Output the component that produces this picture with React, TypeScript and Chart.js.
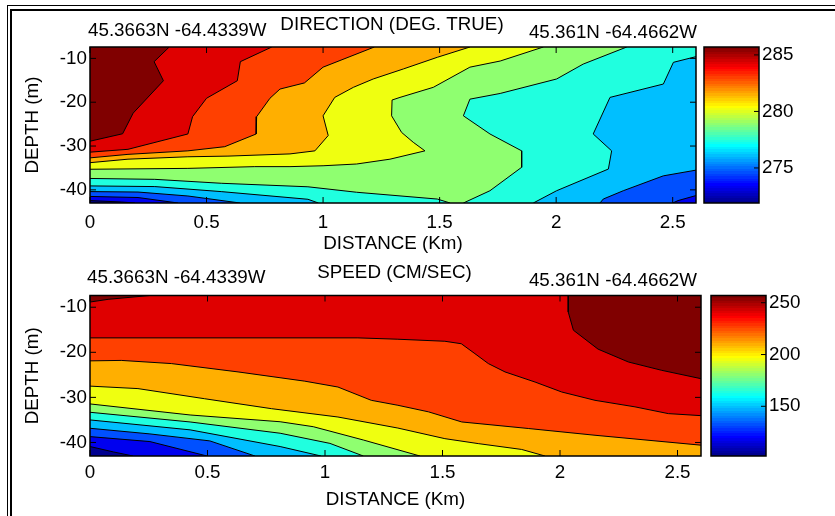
import React, { useEffect, useRef } from "react";
import { Chart, registerables } from "chart.js";

Chart.register(...registerables);

type Pt = [number, number];

const FONT = "'Liberation Sans', Arial, Helvetica, sans-serif";
const FS = 18.8;
Chart.defaults.font.family = FONT;

// ---------- axes ----------
const X_MIN = 0;
const X_MAX = 2.6;
const Y_MIN = -43;
const Y_MAX = -7.4;
const distanceTicks = [0, 0.5, 1, 1.5, 2, 2.5];
const depthTicks = [-40, -30, -20, -10];

// ---------- colour bars ----------
const dirColorRange: [number, number] = [271.9, 285.7];
const dirColorTicks = [275, 280, 285];
const spdColorRange: [number, number] = [102, 257];
const spdColorTicks = [150, 200, 250];
// jet(64) entry used for each filled contour band (lowest -> highest)
const levelJetIndex = [1, 7, 13, 20, 26, 33, 39, 45, 52, 58, 64];

// ---------- texts ----------
const stationWest = "45.3663N -64.4339W";
const stationEast = "45.361N -64.4662W";
const dirTitle = "DIRECTION (DEG. TRUE)";
const spdTitle = "SPEED (CM/SEC)";
const xTitle = "DISTANCE (Km)";
const yTitle = "DEPTH (m)";

// ---------- DIRECTION contour lines: [distance km, depth m] ----------
// isoK = lower boundary of band K (band index as in levelJetIndex)
const dirIso1: Pt[] = [[0, -42.45], [0.134, -42.77], [0.193, -43]];
const dirIso2L: Pt[] = [[0, -41.5], [0.206, -41.75], [0.378, -43]];
const dirIso2R: Pt[] = [[2.6, -41.3], [2.523, -42.45], [2.5, -43]];
const dirIso3L: Pt[] = [[0, -40.4], [0.206, -40.5], [0.42, -41.4], [0.644, -43]];
const dirIso3R: Pt[] = [[2.6, -35.5], [2.46, -36.8], [2.288, -40.2], [2.202, -42.1], [2.188, -43]];
const dirIso4L: Pt[] = [[0, -39.1], [0.278, -39.25], [0.563, -40.4], [0.935, -42.15], [0.98, -43]];
const dirIso4R: Pt[] = [[2.6, -9.6], [2.503, -10.9], [2.46, -15.85], [2.231, -18.9], [2.159, -27.25], [2.238, -31.1], [2.224, -35.25], [2.002, -40.2], [1.902, -43]];
const dirIso5L: Pt[] = [[0, -37.4], [0.278, -37.6], [0.563, -38.5], [0.935, -39.3], [1.144, -40.55], [1.49, -42.1], [1.545, -43]];
const dirIso5R: Pt[] = [[2.303, -7.4], [2.116, -11.3], [2.002, -14.7], [1.76, -18.0], [1.63, -19.3], [1.602, -23.1], [1.716, -27.25], [1.852, -31.1], [1.852, -34.85], [1.716, -40.2], [1.602, -43]];
const dirIso6: Pt[] = [[1.945, -7.4], [1.76, -10.6], [1.63, -12.0], [1.473, -16.6], [1.33, -18.9], [1.296, -19.5], [1.294, -23.1], [1.337, -26.9], [1.387, -29.15], [1.437, -31.1], [1.287, -33.0], [1.144, -34.1], [1.0, -34.5], [0.858, -34.7], [0.707, -34.7], [0.42, -35.1], [0, -35.3]];
const dirIso7: Pt[] = [[1.63, -7.4], [1.49, -9.75], [1.345, -12.4], [1.215, -14.7], [1.13, -16.6], [1.05, -18.9], [1.0, -23.1], [1.022, -27.6], [0.965, -31.1], [0.858, -31.8], [0.592, -32.3], [0.42, -32.45], [0.163, -33.0], [0, -33.8]];
const dirIso8: Pt[] = [[1.22, -7.4], [1.0, -12.0], [0.92, -15.6], [0.815, -17.0], [0.772, -19.1], [0.715, -23.3], [0.713, -27.25], [0.578, -30.15], [0.42, -31.1], [0.163, -31.9], [0, -32.7]];
const dirIso9: Pt[] = [[0.78, -7.4], [0.645, -10.75], [0.632, -15.1], [0.5, -19.1], [0.44, -23.3], [0.42, -27.25], [0.163, -30.75], [0, -31.4]];
const dirIso10: Pt[] = [[0.34, -7.4], [0.275, -10.75], [0.315, -15.1], [0.185, -22.5], [0.14, -27.2], [0, -28.9]];

// ---------- SPEED contour lines ----------
const spdIso1: Pt[] = [[0, -40.9], [0.1, -42.1], [0.183, -43]];
const spdIso2: Pt[] = [[0, -38.7], [0.255, -39.8], [0.498, -43]];
const spdIso3: Pt[] = [[0, -36.85], [0.255, -38.1], [0.51, -39.65], [0.702, -43]];
const spdIso4: Pt[] = [[0, -35.0], [0.426, -37.2], [0.809, -40.9], [0.983, -43]];
const spdIso5: Pt[] = [[0, -33.3], [0.426, -35.45], [0.809, -37.95], [1.021, -40.2], [1.163, -43]];
const spdIso6: Pt[] = [[0, -31.45], [0.426, -33.9], [0.809, -35.4], [0.95, -36.5], [1.163, -39.45], [1.404, -43]];
const spdIso7: Pt[] = [[0, -27.5], [0.204, -28.05], [0.488, -30.3], [0.772, -32.5], [1.055, -34.35], [1.31, -36.8], [1.51, -39.15], [1.652, -40.25], [1.837, -41.55], [1.936, -43]];
const spdIso8: Pt[] = [[0, -21.9], [0.133, -21.8], [0.346, -22.5], [0.63, -24.35], [0.914, -26.4], [1.055, -27.7], [1.197, -30.65], [1.31, -31.75], [1.44, -33.2], [1.582, -35.45], [1.865, -36.9], [2.149, -38.4], [2.6, -40.6]];
const spdIso9: Pt[] = [[0, -16.8], [1.14, -16.8], [1.31, -17.1], [1.51, -17.55], [1.58, -18.1], [1.638, -20.3], [1.695, -22.5], [1.766, -24.35], [1.894, -26.6], [2.007, -28.8], [2.149, -30.65], [2.319, -32.1], [2.461, -33.6], [2.6, -34.05]];
const spdIso10L: Pt[] = [[0, -8.85], [0.077, -8.25], [0.254, -7.4]];
const spdIso10R: Pt[] = [[2.035, -7.4], [2.035, -11.05], [2.057, -15.1], [2.162, -19.3], [2.291, -22.15], [2.433, -24.0], [2.6, -25.85]];

// plot-bound corners
const TL: Pt = [X_MIN, Y_MAX];
const TR: Pt = [X_MAX, Y_MAX];
const BR: Pt = [X_MAX, Y_MIN];
const BL: Pt = [X_MIN, Y_MIN];
const rev = (a: Pt[]) => [...a].reverse();

function jetColor(j: number): string {
  const u = (k: number) => (k < 1 || k > 47 ? 0 : k <= 16 ? k / 16 : k <= 31 ? 1 : (48 - k) / 16);
  const c = (v: number) => Math.round(v * 255);
  return `rgb(${c(u(j - 24))},${c(u(j - 8))},${c(u(j + 8))})`;
}
const levelColors = levelJetIndex.map(jetColor);

type Region = { level: number; pts: Pt[] };

const dirRegions: Region[] = [
  { level: 0, pts: [BL, BR, TR, TL] },
  { level: 1, pts: [...dirIso1, BR, TR, TL] },
  { level: 2, pts: [...dirIso2L, ...rev(dirIso2R), TR, TL] },
  { level: 3, pts: [...dirIso3L, ...rev(dirIso3R), TR, TL] },
  { level: 4, pts: [...dirIso4L, ...rev(dirIso4R), TR, TL] },
  { level: 5, pts: [...dirIso5L, ...rev(dirIso5R), TL] },
  { level: 6, pts: [...dirIso6, TL] },
  { level: 7, pts: [...dirIso7, TL] },
  { level: 8, pts: [...dirIso8, TL] },
  { level: 9, pts: [...dirIso9, TL] },
  { level: 10, pts: [...dirIso10, TL] },
];
const dirLines: Pt[][] = [dirIso1, dirIso2L, dirIso2R, dirIso3L, dirIso3R, dirIso4L, dirIso4R, dirIso5L, dirIso5R, dirIso6, dirIso7, dirIso8, dirIso9, dirIso10];

const spdRegions: Region[] = [
  { level: 0, pts: [BL, BR, TR, TL] },
  { level: 1, pts: [...spdIso1, BR, TR, TL] },
  { level: 2, pts: [...spdIso2, BR, TR, TL] },
  { level: 3, pts: [...spdIso3, BR, TR, TL] },
  { level: 4, pts: [...spdIso4, BR, TR, TL] },
  { level: 5, pts: [...spdIso5, BR, TR, TL] },
  { level: 6, pts: [...spdIso6, BR, TR, TL] },
  { level: 7, pts: [...spdIso7, BR, TR, TL] },
  { level: 8, pts: [...spdIso8, TR, TL] },
  { level: 9, pts: [...spdIso9, TR, TL] },
  { level: 10, pts: [...spdIso10L, TL] },
  { level: 10, pts: [...spdIso10R, TR] },
];
const spdLines: Pt[][] = [spdIso1, spdIso2, spdIso3, spdIso4, spdIso5, spdIso6, spdIso7, spdIso8, spdIso9, spdIso10L, spdIso10R];

type Panel = {
  regions: Region[];
  lines: Pt[][];
  title: string;
  pad: { left: number; top: number; right: number; bottom: number };
  yAxisWidth: number;
  xAxisHeight: number;
  xTickPad: number;
  xTitlePad: number;
  yTitlePad: number;
  titleX: number;
  titleBase: number;
  westX: number;
  westBase: number;
  eastX: number;
  eastBase: number;
};

const TICK = 6;

function contourConfig(p: Panel): any {
  const datasets: any[] = [];
  p.regions.forEach((r, i) => {
    datasets.push({
      data: r.pts.map(([x, y]) => ({ x, y })),
      showLine: true,
      fill: "shape",
      backgroundColor: levelColors[r.level],
      borderColor: "rgba(0,0,0,0)",
      borderWidth: 0,
      pointRadius: 0,
      tension: 0,
      order: 1000 - i,
    });
  });
  p.lines.forEach((l) => {
    datasets.push({
      data: l.map(([x, y]) => ({ x, y })),
      showLine: true,
      fill: false,
      borderColor: "#000",
      borderWidth: 1,
      pointRadius: 0,
      tension: 0,
      order: 0,
    });
  });
  const font = { family: FONT, size: FS };
  const framePlugin = {
    id: "frame",
    afterDatasetsDraw(chart: any) {
      const { ctx } = chart;
      const { left, right, top, bottom } = chart.chartArea;
      const xs = chart.scales.x;
      const ys = chart.scales.y;
      ctx.save();
      ctx.strokeStyle = "#000";
      ctx.lineWidth = 1;
      ctx.beginPath();
      distanceTicks.forEach((v) => {
        const px = xs.getPixelForValue(v);
        ctx.moveTo(px, bottom);
        ctx.lineTo(px, bottom - TICK);
        ctx.moveTo(px, top);
        ctx.lineTo(px, top + TICK);
      });
      depthTicks.forEach((v) => {
        const py = ys.getPixelForValue(v);
        ctx.moveTo(left, py);
        ctx.lineTo(left + TICK, py);
        ctx.moveTo(right, py);
        ctx.lineTo(right - TICK, py);
      });
      ctx.stroke();
      ctx.lineWidth = 1.5;
      ctx.strokeRect(left, top, right - left, bottom - top);
      ctx.restore();
    },
    afterDraw(chart: any) {
      const { ctx } = chart;
      ctx.save();
      ctx.fillStyle = "#000";
      ctx.font = `${FS}px ${FONT}`;
      ctx.textBaseline = "alphabetic";
      ctx.textAlign = "center";
      ctx.fillText(p.title, p.titleX, p.titleBase);
      ctx.textAlign = "left";
      ctx.fillText(stationWest, p.westX, p.westBase);
      ctx.textAlign = "right";
      ctx.fillText(stationEast, p.eastX, p.eastBase);
      ctx.restore();
    },
  };
  return {
    type: "scatter",
    data: { datasets },
    options: {
      animation: false,
      responsive: false,
      devicePixelRatio: 1,
      events: [],
      layout: { padding: p.pad },
      plugins: { legend: { display: false }, tooltip: { enabled: false } },
      scales: {
        x: {
          type: "linear",
          min: X_MIN,
          max: X_MAX,
          grid: { display: false, drawTicks: false },
          border: { display: false },
          afterBuildTicks: (s: any) => {
            s.ticks = distanceTicks.map((v) => ({ value: v }));
          },
          afterFit: (s: any) => {
            s.height = p.xAxisHeight;
          },
          ticks: { font, color: "#000", padding: p.xTickPad, maxRotation: 0, autoSkip: false, callback: (v: any) => String(v) },
          title: { display: true, text: xTitle, font, color: "#000", padding: { top: 0, bottom: p.xTitlePad } },
        },
        y: {
          type: "linear",
          min: Y_MIN,
          max: Y_MAX,
          grid: { display: false, drawTicks: false },
          border: { display: false },
          afterBuildTicks: (s: any) => {
            s.ticks = depthTicks.map((v) => ({ value: v }));
          },
          afterFit: (s: any) => {
            s.width = p.yAxisWidth;
          },
          ticks: { font, color: "#000", padding: 3, autoSkip: false, callback: (v: any) => String(v) },
          title: { display: true, text: yTitle, font, color: "#000", padding: { top: p.yTitlePad, bottom: 0 } },
        },
      },
    },
    plugins: [framePlugin],
  };
}

type Bar = {
  range: [number, number];
  ticks: number[];
  pad: { left: number; top: number; right: number; bottom: number };
  axisWidth: number;
};

function colorbarConfig(b: Bar): any {
  const font = { family: FONT, size: FS };
  const gradient = (c: any) => {
    const { chart } = c;
    const area = chart.chartArea;
    if (!area) return levelColors[5];
    const g = chart.ctx.createLinearGradient(0, area.bottom, 0, area.top);
    for (let j = 1; j <= 64; j++) {
      const col = jetColor(j);
      g.addColorStop((j - 1) / 64, col);
      g.addColorStop(j / 64, col);
    }
    return g;
  };
  const framePlugin = {
    id: "cbframe",
    afterDatasetsDraw(chart: any) {
      const { ctx } = chart;
      const { left, right, top, bottom } = chart.chartArea;
      const ys = chart.scales.y;
      ctx.save();
      ctx.strokeStyle = "#000";
      ctx.lineWidth = 1;
      ctx.beginPath();
      b.ticks.forEach((v) => {
        const py = ys.getPixelForValue(v);
        ctx.moveTo(right, py);
        ctx.lineTo(right - 5, py);
      });
      ctx.stroke();
      ctx.lineWidth = 1.5;
      ctx.strokeRect(left, top, right - left, bottom - top);
      ctx.restore();
    },
  };
  return {
    type: "bar",
    data: {
      labels: [""],
      datasets: [
        {
          data: [[b.range[0], b.range[1]]],
          backgroundColor: gradient,
          borderWidth: 0,
          barPercentage: 1,
          categoryPercentage: 1,
        },
      ],
    },
    options: {
      animation: false,
      responsive: false,
      devicePixelRatio: 1,
      events: [],
      layout: { padding: b.pad },
      plugins: { legend: { display: false }, tooltip: { enabled: false } },
      scales: {
        x: { display: false },
        y: {
          position: "right",
          min: b.range[0],
          max: b.range[1],
          grid: { display: false, drawTicks: false },
          border: { display: false },
          afterBuildTicks: (s: any) => {
            s.ticks = b.ticks.map((v) => ({ value: v }));
          },
          afterFit: (s: any) => {
            s.width = b.axisWidth;
          },
          ticks: { font, color: "#000", padding: 3, callback: (v: any) => String(v) },
        },
      },
    },
    plugins: [framePlugin],
  };
}

function ChartCanvas(props: { left: number; top: number; width: number; height: number; build: () => any }) {
  const ref = useRef<HTMLCanvasElement>(null);
  useEffect(() => {
    const chart = new Chart(ref.current as HTMLCanvasElement, props.build());
    return () => chart.destroy();
  }, []);
  return (
    <canvas
      ref={ref}
      width={props.width}
      height={props.height}
      style={{ position: "absolute", left: props.left, top: props.top, width: props.width, height: props.height }}
    />
  );
}

const dirPanel: Panel = {
  regions: dirRegions,
  lines: dirLines,
  title: dirTitle,
  pad: { left: 10, top: 47, right: 4, bottom: 0 },
  yAxisWidth: 80,
  xAxisHeight: 55,
  xTickPad: 8.5,
  xTitlePad: 2.5,
  yTitlePad: 11.5,
  titleX: 392,
  titleBase: 30,
  westX: 88,
  westBase: 36,
  eastX: 697,
  eastBase: 37.5,
};

const spdPanel: Panel = {
  regions: spdRegions,
  lines: spdLines,
  title: spdTitle,
  pad: { left: 10, top: 37.5, right: 4, bottom: 0 },
  yAxisWidth: 80,
  xAxisHeight: 60,
  xTickPad: 6,
  xTitlePad: 5.3,
  yTitlePad: 11.5,
  titleX: 394.5,
  titleBase: 20.3,
  westX: 87,
  westBase: 25.3,
  eastX: 697,
  eastBase: 28,
};

export default function App() {
  return (
    <div style={{ position: "absolute", left: 0, top: 0, width: 835, height: 516, overflow: "hidden", background: "#fff" }}>
      <div style={{ position: "absolute", left: 7, top: 5, right: 0, bottom: 0, borderTop: "1px solid #000", borderLeft: "1px solid #000" }} />
      <div style={{ position: "absolute", left: 10, top: 9, right: 0, bottom: 0, borderTop: "2px solid #000", borderLeft: "2px solid #000" }} />
      <ChartCanvas left={0} top={0} width={700} height={258} build={() => contourConfig(dirPanel)} />
      <ChartCanvas
        left={700}
        top={0}
        width={135}
        height={258}
        build={() => colorbarConfig({ range: dirColorRange, ticks: dirColorTicks, pad: { left: 4, top: 47, right: 0, bottom: 55 }, axisWidth: 76 })}
      />
      <ChartCanvas left={0} top={258} width={705} height={258} build={() => contourConfig(spdPanel)} />
      <ChartCanvas
        left={705}
        top={258}
        width={130}
        height={258}
        build={() => colorbarConfig({ range: spdColorRange, ticks: spdColorTicks, pad: { left: 6, top: 37.5, right: 0, bottom: 60 }, axisWidth: 69 })}
      />
    </div>
  );
}
